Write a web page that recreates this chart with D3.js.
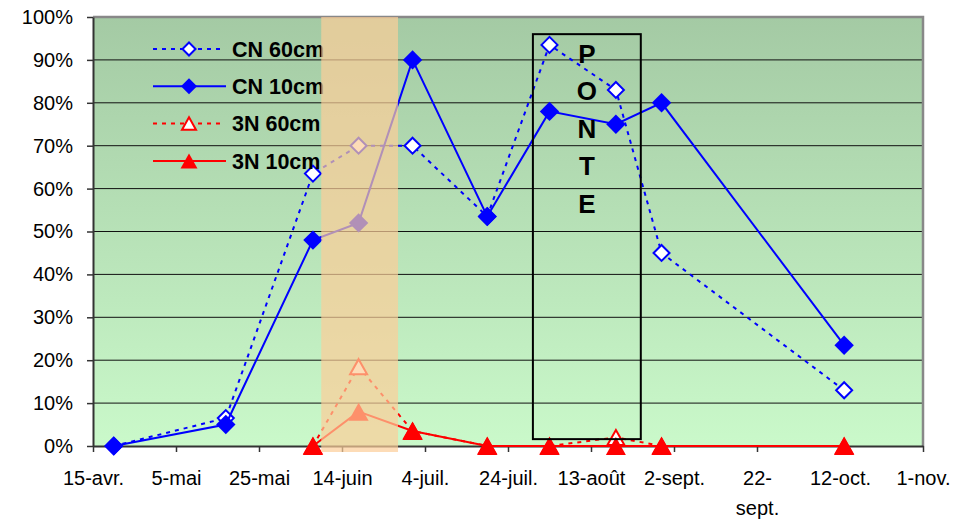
<!DOCTYPE html>
<html>
<head>
<meta charset="utf-8">
<title>CN / 3N - ponte</title>
<script src="https://d3js.org/d3.v7.min.js"></script>
<style>
  body { margin: 0; background: #fff; }
  text { font-family: Arial, "Liberation Sans", sans-serif; }
</style>
</head>
<body>
<div id="chart"></div>
<script>
// dates des relevés
var dates = ["2007-04-20", "2007-05-17", "2007-06-07", "2007-06-18", "2007-07-01",
             "2007-07-19", "2007-08-03", "2007-08-19", "2007-08-30", "2007-10-13"];

// valeurs en %
var cn60 = [0, 6.5, 63.5, 70, 70, 53.5, 93.5, 83, 45, 13];
var cn10 = [0, 5, 48, 52, 90, 53.5, 78, 75, 80, 23.5];
var n60 = [null, null, 0, 18.5, 3.5, 0, 0, 2, 0, 0];
var n10 = [null, null, 0, 8, 3.5, 0, 0, 0, 0, 0];

// axes
var axisStart = "2007-04-15", axisEnd = "2007-11-01";
var tickStepDays = 20;
var tickLabels = ["15-avr.", "5-mai", "25-mai", "14-juin", "4-juil.", "24-juil.",
                  "13-août", "2-sept.", "22-sept.", "12-oct.", "1-nov."];
var yTicks = [0, 10, 20, 30, 40, 50, 60, 70, 80, 90, 100];

// annotations
var bandDates = ["2007-06-09", "2007-06-27T12:00Z"];
var ponteDates = ["2007-07-30", "2007-08-25"];
var ponteRange = [1.6, 96];
var ponteLetters = ["P", "O", "N", "T", "E"];

var margin = { top: 17, right: 35, bottom: 75, left: 93 },
    W = 958, H = 521,
    width = 830,
    height = 429;

var parse = d3.isoParse;
var start = parse(axisStart), end = parse(axisEnd);

var x = d3.scaleUtc().domain([start, end]).range([0, width]);
var y = d3.scaleLinear().domain([0, 100]).range([height, 0]);

var svg = d3.select("#chart").append("svg")
    .attr("width", W).attr("height", H);

var defs = svg.append("defs");
var grad = defs.append("linearGradient").attr("id", "bg")
    .attr("x1", 0).attr("y1", 0).attr("x2", 0).attr("y2", 1);
grad.append("stop").attr("offset", "0%").attr("stop-color", "#a4caa4");
grad.append("stop").attr("offset", "100%").attr("stop-color", "#caf9ca");

var g = svg.append("g")
    .attr("transform", "translate(" + margin.left + "," + margin.top + ")");

// fond
g.append("rect")
    .attr("width", width).attr("height", height)
    .attr("fill", "url(#bg)");

// grille
g.append("g").selectAll("line")
    .data(yTicks.filter(function (d) { return d > 0; }))
    .enter().append("line")
    .attr("x1", 0).attr("x2", width)
    .attr("y1", function (d) { return y(d); })
    .attr("y2", function (d) { return y(d); })
    .attr("stroke", "#111").attr("stroke-width", 1);

// cadre haut / droite
g.append("path")
    .attr("d", "M0,0H" + width + "V" + height)
    .attr("fill", "none").attr("stroke", "#888").attr("stroke-width", 2.5);

// axe X
var tickDates = tickLabels.map(function (d, i) { return d3.utcDay.offset(start, i * tickStepDays); });
var xAxis = g.append("g")
    .attr("transform", "translate(0," + height + ")")
    .call(d3.axisBottom(x).tickValues(tickDates).tickSize(6).tickSizeOuter(0)
        .tickFormat(function (d, i) { return tickLabels[i]; }));
xAxis.select(".domain").attr("stroke", "#333").attr("stroke-width", 2);
xAxis.selectAll(".tick line").attr("stroke", "#333").attr("stroke-width", 1.5);
xAxis.selectAll("text")
    .attr("y", 25).attr("dy", null)
    .attr("font-size", 20).attr("fill", "#000")
    .style("font-family", "Arial, 'Liberation Sans', sans-serif");

// libellés trop longs : retour à la ligne après le tiret
xAxis.selectAll(".tick text").each(function () {
    var t = d3.select(this);
    if (this.getComputedTextLength() > 68) {
        var s = t.text(), k = s.indexOf("-") + 1;
        t.text(null);
        t.append("tspan").attr("x", 0).attr("y", 25).attr("dy", "0.71em").text(s.slice(0, k));
        t.append("tspan").attr("x", 0).attr("dy", "1.5em").text(s.slice(k));
    } else {
        t.attr("dy", "0.71em");
    }
});

// axe Y
var yAxis = g.append("g")
    .call(d3.axisLeft(y).tickValues(yTicks).tickSize(6).tickSizeOuter(0)
        .tickFormat(function (d) { return d + "%"; }));
yAxis.select(".domain").attr("stroke", "#333").attr("stroke-width", 2);
yAxis.selectAll(".tick line").attr("stroke", "#333").attr("stroke-width", 1.5);
yAxis.selectAll("text")
    .attr("x", -20)
    .attr("font-size", 20).attr("fill", "#000")
    .style("font-family", "Arial, 'Liberation Sans', sans-serif");

// formes des marqueurs
function diamond(r) { return "M0," + (-r) + "L" + r + ",0L0," + r + "L" + (-r) + ",0Z"; }
function triangle(w, h) { return "M0," + (-h / 2) + "L" + (w / 2) + "," + (h / 2) + "L" + (-w / 2) + "," + (h / 2) + "Z"; }

var series = [
    { name: "CN 60cm", values: cn60, color: "#0000ff", dash: "4,5", shape: "diamond", filled: false },
    { name: "CN 10cm", values: cn10, color: "#0000ff", dash: null, shape: "diamond", filled: true },
    { name: "3N 60cm", values: n60, color: "#ff0000", dash: "4,5", shape: "triangle", filled: false },
    { name: "3N 10cm", values: n10, color: "#ff0000", dash: null, shape: "triangle", filled: true }
];

function markerPath(s, legend) {
    if (s.shape === "diamond") {
        if (legend) return diamond(s.filled ? 8 : 6.5);
        return diamond(s.filled ? 9.7 : 8);
    }
    if (legend) return s.filled ? triangle(17, 15) : triangle(14, 12.5);
    return s.filled ? triangle(20, 18) : triangle(17, 15);
}

var line = d3.line()
    .defined(function (d) { return d.v != null; })
    .x(function (d) { return x(d.date); })
    .y(function (d) { return y(d.v); });

series.forEach(function (s) {
    var pts = dates.map(function (d, i) { return { date: parse(d), v: s.values[i] }; });
    var sg = g.append("g");
    sg.append("path")
        .datum(pts)
        .attr("d", line)
        .attr("fill", "none")
        .attr("stroke", s.color)
        .attr("stroke-width", 2)
        .attr("stroke-dasharray", s.dash);
    sg.selectAll("path.mk")
        .data(pts.filter(function (d) { return d.v != null; }))
        .enter().append("path")
        .attr("class", "mk")
        .attr("transform", function (d) { return "translate(" + x(d.date) + "," + y(d.v) + ")"; })
        .attr("d", markerPath(s, false))
        .attr("fill", s.filled ? s.color : "#fff")
        .attr("stroke", s.filled ? "none" : s.color)
        .attr("stroke-width", 2);
});

// légende
var legend = g.append("g").attr("transform", "translate(60,32)");
var leg = legend.selectAll("g").data(series).enter().append("g")
    .attr("transform", function (d, i) { return "translate(0," + (i * 37.3) + ")"; });
leg.append("line")
    .attr("x1", 0).attr("x2", function (d) { return d.dash ? 68 : 73; })
    .attr("stroke", function (d) { return d.color; })
    .attr("stroke-width", 2)
    .attr("stroke-dasharray", function (d) { return d.dash; });
leg.append("path")
    .attr("transform", "translate(36,0)")
    .attr("d", function (d) { return markerPath(d, true); })
    .attr("fill", function (d) { return d.filled ? d.color : "#fff"; })
    .attr("stroke", function (d) { return d.filled ? "none" : d.color; })
    .attr("stroke-width", 2);
leg.append("text")
    .attr("x", 79).attr("dy", "0.36em")
    .attr("font-size", 21.5).attr("font-weight", "bold")
    .text(function (d) { return d.name; });

// bande
g.append("rect")
    .attr("x", x(parse(bandDates[0])))
    .attr("y", 0)
    .attr("width", x(parse(bandDates[1])) - x(parse(bandDates[0])))
    .attr("height", height + 6)
    .attr("fill", "rgb(252,205,153)")
    .attr("opacity", 0.7);

// cadre PONTE
var px0 = x(parse(ponteDates[0])), px1 = x(parse(ponteDates[1]));
g.append("rect")
    .attr("x", px0).attr("y", y(ponteRange[1]))
    .attr("width", px1 - px0)
    .attr("height", y(ponteRange[0]) - y(ponteRange[1]))
    .attr("fill", "none").attr("stroke", "#000").attr("stroke-width", 2);
g.append("g").selectAll("text")
    .data(ponteLetters)
    .enter().append("text")
    .attr("x", (px0 + px1) / 2)
    .attr("y", function (d, i) { return y(ponteRange[1]) + 19 + i * 37.5; })
    .attr("dy", "0.36em")
    .attr("text-anchor", "middle")
    .attr("font-size", 26).attr("font-weight", "bold")
    .text(function (d) { return d; });
</script>
</body>
</html>
